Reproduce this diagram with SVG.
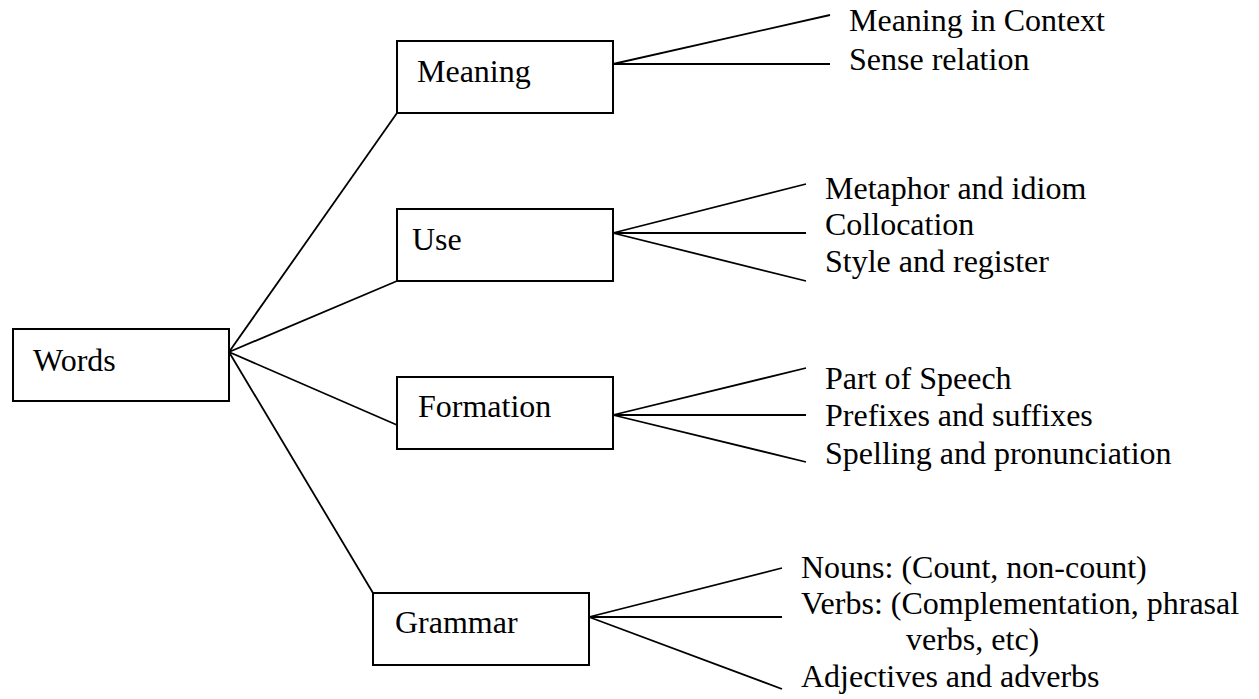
<svg xmlns="http://www.w3.org/2000/svg" width="1259" height="699" viewBox="0 0 1259 699">
<style>
.box{fill:#fff;stroke:#000;stroke-width:2}
.t{font-family:"Liberation Serif","Times New Roman",serif;font-size:32px;fill:#000}
.c line{stroke:#000;stroke-width:1.8}
</style>
<rect width="1259" height="699" fill="#fff"/>
<g class="c" id="connectors">
<line x1="229" y1="352" x2="397" y2="113"/>
<line x1="229" y1="352" x2="397" y2="281"/>
<line x1="229" y1="352" x2="397" y2="425"/>
<line x1="229" y1="352" x2="373" y2="593"/>
<line x1="613" y1="64" x2="830" y2="15"/>
<line x1="613" y1="64" x2="830" y2="64"/>
<line x1="613" y1="233" x2="806" y2="184"/>
<line x1="613" y1="233" x2="806" y2="233"/>
<line x1="613" y1="233" x2="806" y2="281"/>
<line x1="613" y1="415" x2="806" y2="368"/>
<line x1="613" y1="415" x2="806" y2="415"/>
<line x1="613" y1="415" x2="806" y2="462"/>
<line x1="589" y1="617" x2="782" y2="568"/>
<line x1="589" y1="617" x2="782" y2="617"/>
<line x1="589" y1="617" x2="782" y2="689"/>
</g>
<g id="words"><rect class="box" x="13" y="329" width="216" height="72"/><text class="t" x="33" y="371">Words</text></g>
<g id="meaning"><rect class="box" x="397" y="41" width="216" height="72"/><text class="t" x="417" y="82">Meaning</text></g>
<g id="use"><rect class="box" x="397" y="209" width="216" height="72"/><text class="t" x="412" y="250">Use</text></g>
<g id="formation"><rect class="box" x="397" y="377" width="216" height="72"/><text class="t" x="418" y="417">Formation</text></g>
<g id="grammar"><rect class="box" x="373" y="593" width="216" height="72"/><text class="t" x="395" y="633">Grammar</text></g>
<g id="meaning-items">
<text class="t" x="849" y="31">Meaning in Context</text>
<text class="t" x="849" y="70">Sense relation</text>
</g>
<g id="use-items">
<text class="t" x="825" y="199">Metaphor and idiom</text>
<text class="t" x="825" y="235">Collocation</text>
<text class="t" x="825" y="272">Style and register</text>
</g>
<g id="formation-items">
<text class="t" x="825" y="389">Part of Speech</text>
<text class="t" x="825" y="426">Prefixes and suffixes</text>
<text class="t" x="825" y="464">Spelling and pronunciation</text>
</g>
<g id="grammar-items">
<text class="t" x="801" y="578">Nouns: (Count, non-count)</text>
<text class="t" x="801" y="614">Verbs: (Complementation, phrasal</text>
<text class="t" x="906" y="650">verbs, etc)</text>
<text class="t" x="801" y="687">Adjectives and adverbs</text>
</g>
</svg>
